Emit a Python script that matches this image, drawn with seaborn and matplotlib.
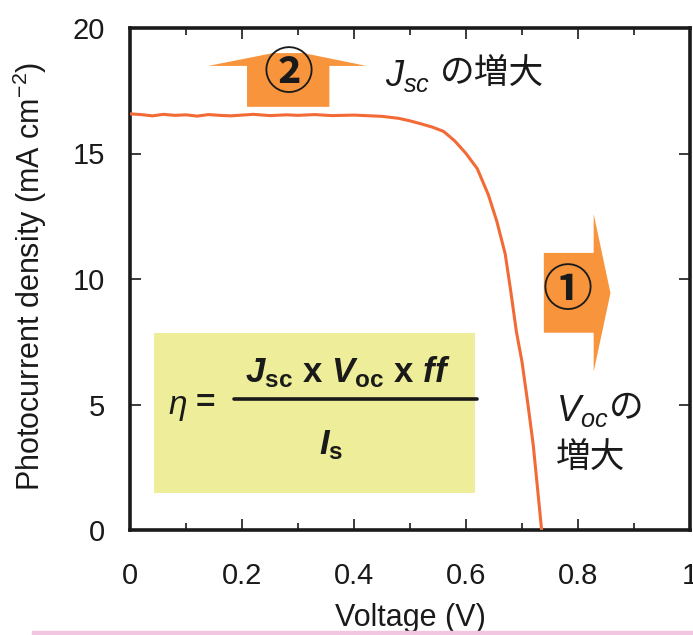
import numpy as np
import pandas as pd
import matplotlib
matplotlib.use('Agg')
import matplotlib.pyplot as plt
from matplotlib.patches import Polygon, Rectangle
import seaborn as sns

# J-V curve
voltage = [0, 0.02, 0.04, 0.06, 0.08, 0.10, 0.12, 0.14, 0.16, 0.18, 0.20, 0.22,
           0.25, 0.28, 0.30, 0.33, 0.36, 0.40, 0.43, 0.45, 0.48, 0.50, 0.52,
           0.54, 0.56, 0.58, 0.60, 0.62, 0.64, 0.655, 0.67, 0.68, 0.69, 0.70,
           0.71, 0.72, 0.728, 0.735]
current = [16.58, 16.55, 16.50, 16.56, 16.52, 16.54, 16.49, 16.55, 16.52, 16.50,
           16.53, 16.56, 16.51, 16.54, 16.52, 16.55, 16.51, 16.53, 16.50, 16.48,
           16.40, 16.30, 16.18, 16.05, 15.88, 15.50, 15.00, 14.40, 13.35, 12.30,
           11.00, 9.50, 7.90, 6.70, 5.10, 3.40, 1.60, 0.0]

x_ticks = [0, 0.2, 0.4, 0.6, 0.8, 1]
x_tick_labels = ['0', '0.2', '0.4', '0.6', '0.8', '1']
y_ticks = [0, 5, 10, 15, 20]

df = pd.DataFrame({'Voltage': voltage, 'J': current})

sns.set_style('ticks')
plt.rcParams['font.family'] = ['Liberation Sans', 'Noto Sans CJK JP', 'DejaVu Sans']
plt.rcParams['mathtext.fontset'] = 'custom'
plt.rcParams['mathtext.rm'] = 'Liberation Sans'
plt.rcParams['mathtext.it'] = 'Liberation Sans:italic'
plt.rcParams['mathtext.bf'] = 'Liberation Sans:bold'
plt.rcParams['mathtext.bfit'] = 'Liberation Sans:italic:bold'

ink = '#1a1a1a'
fig = plt.figure(figsize=(6.93, 6.35), dpi=100)
ax = fig.add_axes([130 / 693, 105 / 635, 560 / 693, 502 / 635])

# pink strip at the bottom of the image
fig.patches.append(Rectangle((32 / 693, 0), 1, 4 / 635, transform=fig.transFigure,
                             color='#F2C6E0', zorder=0))

# yellow formula box
ax.add_patch(Rectangle((0.042, 1.46), 0.574, 6.38, color='#EEEE9A', zorder=1, lw=0))
ax.plot([0.185, 0.62], [5.2, 5.2], color=ink, lw=2.6, zorder=3, clip_on=False)
ax.text(0.39, 6.3, r'$\mathbfit{J}_{\mathbf{sc}}\ \mathbf{x}\ \mathbfit{V}_{\mathbf{oc}}\ \mathbf{x}\ \mathbfit{ff}$',
        ha='center', va='center', fontsize=25, color=ink, zorder=3)
ax.text(0.36, 3.4, r'$\mathbfit{I}_{\mathbf{s}}$', ha='center', va='center',
        fontsize=25, color=ink, zorder=3)
ax.text(0.085, 4.9, r'$\eta$', ha='center', va='center', fontsize=24,
        color=ink, zorder=3)
ax.text(0.135, 5.05, '=', ha='center', va='center', fontsize=24,
        fontweight='bold', color=ink, zorder=3)

sns.lineplot(data=df, x='Voltage', y='J', ax=ax, color='#F26A36', lw=2.2,
             sort=False, zorder=4)

# arrow 2 (up)
ax.add_patch(Polygon([(0.209, 16.86), (0.356, 16.86), (0.356, 18.49), (0.422, 18.49),
                      (0.31, 19.0), (0.255, 19.0), (0.14, 18.49), (0.209, 18.49)],
                     closed=True, color='#F7943C', lw=0, zorder=2))
ax.text(0.283, 18.1, '②', ha='center', va='center', fontsize=36,
        fontweight='bold', color=ink, zorder=3)

# arrow 1 (right)
ax.add_patch(Polygon([(0.739, 7.86), (0.828, 7.86), (0.828, 6.31), (0.858, 9.44),
                      (0.828, 12.59), (0.828, 11.04), (0.739, 11.04)],
                     closed=True, color='#F7943C', lw=0, zorder=2, clip_on=False))
ax.text(0.781, 9.45, '①', ha='center', va='center', fontsize=36,
        fontweight='bold', color=ink, zorder=3)

# annotations
ax.text(0.455, 18.1, r'$\mathit{J}_{\mathit{sc}}$', ha='left', va='center',
        fontsize=26, color=ink)
ax.text(0.553, 18.15, 'の増大', ha='left', va='center', fontsize=25, color=ink)
ax.text(0.76, 4.75, r'$\mathit{V}_{\mathit{oc}}$', ha='left', va='center',
        fontsize=26, color=ink)
ax.text(0.855, 4.85, 'の', ha='left', va='center', fontsize=25, color=ink)
ax.text(0.76, 2.85, '増大', ha='left', va='center', fontsize=25, color=ink)

ax.set_xlim(0, 1)
ax.set_ylim(0, 20)
ax.set_xticks(x_ticks)
ax.set_xticklabels(x_tick_labels)
ax.set_xticks([0.1, 0.3, 0.5, 0.7, 0.9], minor=True)
ax.set_yticks(y_ticks)
ax.tick_params(axis='both', which='both', direction='in', top=True, right=True,
               colors=ink, labelcolor=ink, labelsize=21)
ax.tick_params(axis='both', which='major', length=8, width=1.2)
ax.tick_params(axis='x', which='minor', length=5, width=1.2)
ax.tick_params(axis='x', which='both', pad=23)
ax.tick_params(axis='y', which='both', pad=18)
for s in ax.spines.values():
    s.set_linewidth(2.6)
    s.set_color(ink)

ax.set_xlabel('Voltage (V)', fontsize=22, color=ink)
ax.set_ylabel('Photocurrent density (mA cm$^{-2}$)', fontsize=22, color=ink)
ax.xaxis.set_label_coords(0.5, -0.145)
ax.yaxis.set_label_coords(-0.145, 0.505)

fig.savefig('out.png', dpi=100)
